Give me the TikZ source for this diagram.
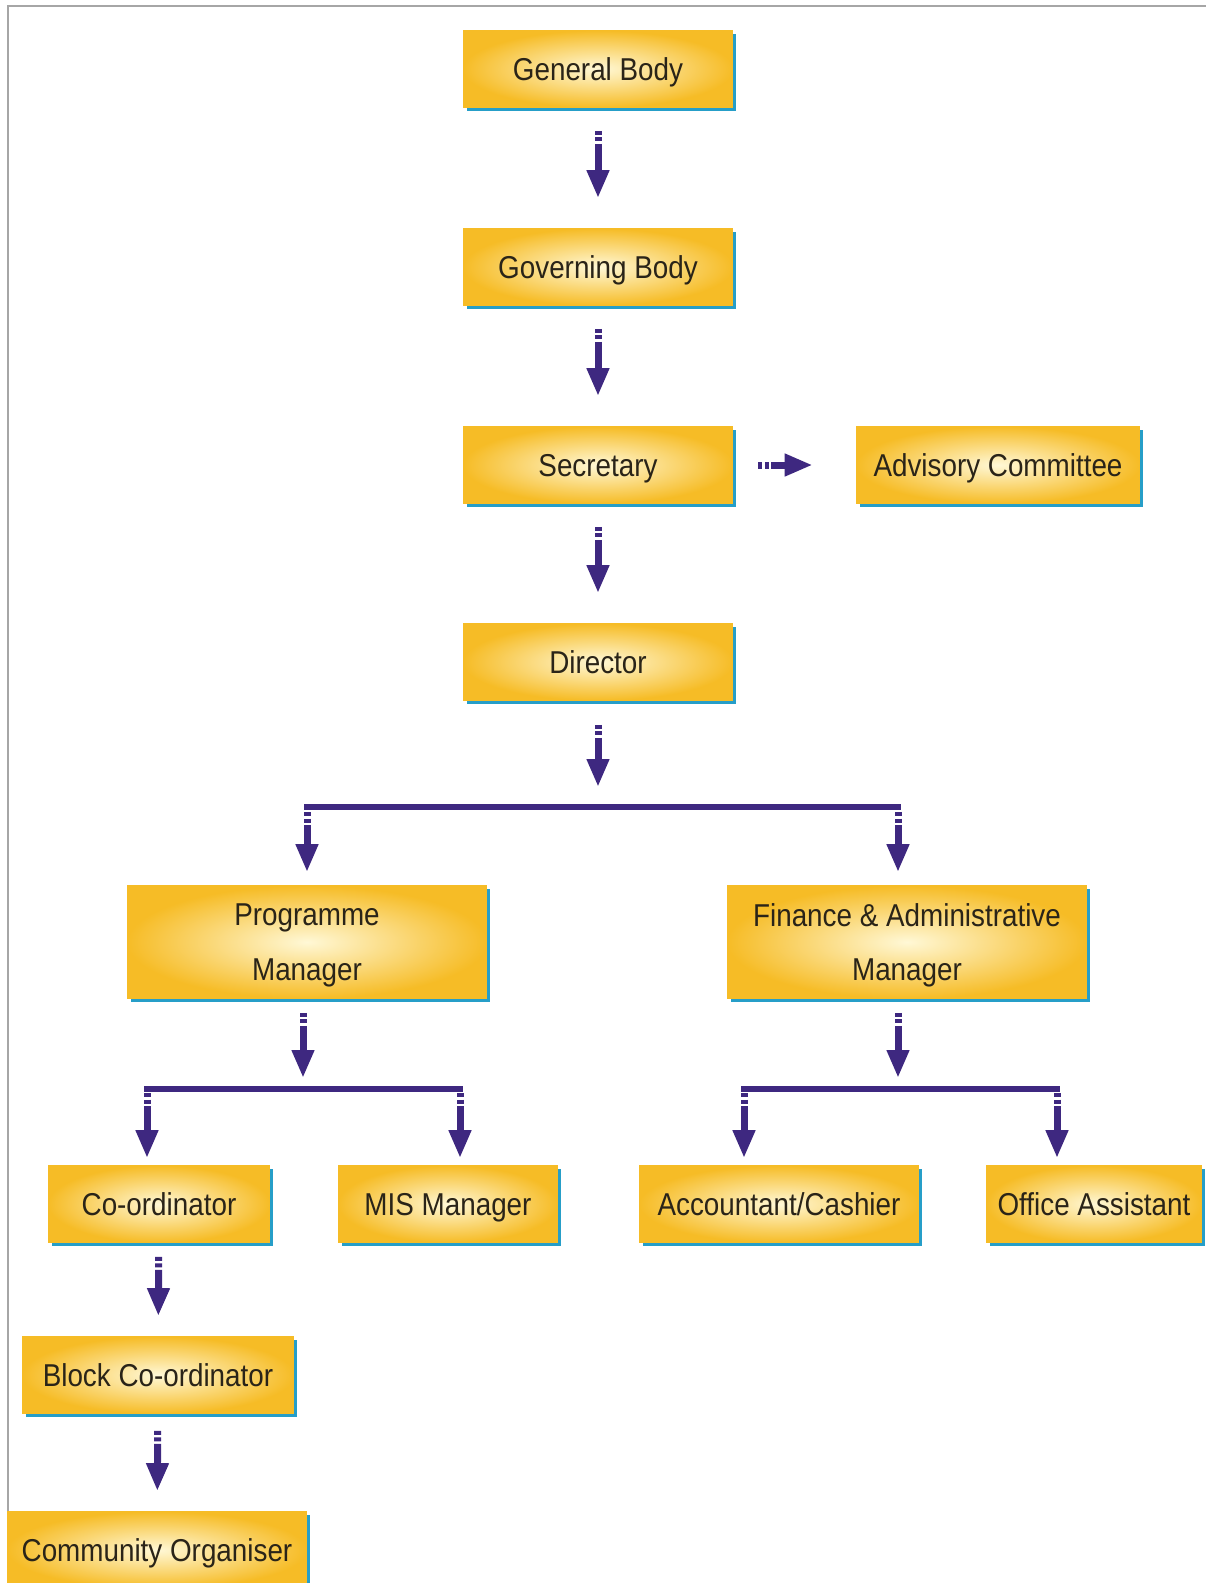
\documentclass[tikz,border=0pt]{standalone}
\usepackage{fontspec}
\setmainfont{Liberation Sans}[FakeStretch=0.88]
\usetikzlibrary{arrows.meta,shadows}

\definecolor{boxgold}{RGB}{246,188,38}
\definecolor{boxpale}{RGB}{255,248,214}
\definecolor{boxedge}{RGB}{38,158,200}
\definecolor{arrowpurple}{RGB}{62,40,128}
\definecolor{labeltext}{RGB}{42,36,24}

\tikzset{
  orgbox/.style={rectangle, inner color=boxpale, outer color=boxgold,
    minimum height=1.54cm, text=labeltext, align=center,
    text height=13.5pt, text depth=0pt,
    font=\fontsize{18}{31}\selectfont,
    general shadow={fill=boxedge, shadow xshift=0.07cm, shadow yshift=-0.07cm}},
  twoline/.style={text height={}, text depth=-11pt, minimum height=2.26cm},
  flow/.style={draw=arrowpurple, line width=0.14cm,
    dash pattern=on 0.08cm off 0.05cm on 0.08cm off 0.05cm on 10cm off 1cm,
    -{Triangle[width=0.42cm,length=0.56cm]}},
  joinbar/.style={draw=arrowpurple, line width=0.12cm, line cap=rect}
}

\begin{document}
\begin{tikzpicture}[x=0.02cm, y=-0.02cm]
        \useasboundingbox (0,0) rectangle (1206,1583);
        \clip (0,0) rectangle (1206,1583);
        % frame
        \draw[gray!70, line width=0.04cm] (8,1583) -- (8,6) -- (1206,6);

        % top column
        \node[orgbox, minimum width=5.4cm] (general) at (598,69) {General Body};
        \node[orgbox, minimum width=5.4cm] (governing) at (598,267) {Governing Body};
        \node[orgbox, minimum width=5.4cm] (secretary) at (598,465) {Secretary};
        \node[orgbox, minimum width=5.68cm] (advisory) at (998,465) {Advisory Committee};
        \node[orgbox, minimum width=5.4cm] (director) at (598,662) {Director};

        % managers
        \node[orgbox, twoline, minimum width=7.2cm] (programme) at (307,942) {Programme\\Manager};
        \node[orgbox, twoline, minimum width=7.2cm] (finance) at (907,942) {Finance \& Administrative\\Manager};

        % staff
        \node[orgbox, minimum width=4.44cm] (coordinator) at (159,1204) {Co-ordinator};
        \node[orgbox, minimum width=4.4cm] (mis) at (448,1204) {MIS Manager};
        \node[orgbox, minimum width=5.6cm] (accountant) at (779,1204) {Accountant/Cashier};
        \node[orgbox, minimum width=4.32cm] (office) at (1094,1204) {Office Assistant};
        \node[orgbox, minimum width=5.44cm] (block) at (158,1375) {Block Co-ordinator};
        \node[orgbox, minimum width=6.0cm] (community) at (157,1550) {Community Organiser};

        % joins of the bars
        \coordinate (dirjoin) at (598,807);
        \coordinate (barprog) at (307,807);
        \coordinate (barfin) at (898,807);
        \coordinate (progjoin) at (303,1089);
        \coordinate (barcoord) at (147,1089);
        \coordinate (barmis) at (460,1089);
        \coordinate (finjoin) at (898,1089);
        \coordinate (baracct) at (744,1089);
        \coordinate (baroffice) at (1057,1089);

        % straight arrows
        \draw[flow, shorten <=0.46cm, shorten >=0.6cm] (general) -- (governing);
        \draw[flow, shorten <=0.46cm, shorten >=0.6cm] (governing) -- (secretary);
        \draw[flow, shorten <=0.46cm, shorten >=0.6cm] (secretary) -- (director);
        \draw[flow, shorten <=0.5cm, shorten >=0.86cm] (secretary) -- (advisory);
        \draw[flow, shorten <=0.28cm, shorten >=0.4cm] (coordinator) -- (block);
        \draw[flow, shorten <=0.34cm, shorten >=0.4cm] (block) -- (community);

        % director to the managers
        \draw[flow, shorten <=0.48cm, shorten >=0.4cm] (director) -- (dirjoin);
        \draw[joinbar] (barprog) -- (barfin);
        \draw[flow, shorten <=0.1cm, shorten >=0.26cm] (barprog) -- (barprog |- programme.north);
        \draw[flow, shorten <=0.1cm, shorten >=0.26cm] (barfin) -- (barfin |- finance.north);

        % managers to their staff
        \draw[flow, shorten <=0.28cm, shorten >=0.22cm] (programme.south -| progjoin) -- (progjoin);
        \draw[joinbar] (barcoord) -- (barmis);
        \draw[flow, shorten <=0.08cm, shorten >=0.14cm] (barcoord) -- (barcoord |- coordinator.north);
        \draw[flow, shorten <=0.08cm, shorten >=0.14cm] (barmis) -- (barmis |- mis.north);

        \draw[flow, shorten <=0.28cm, shorten >=0.22cm] (finance.south -| finjoin) -- (finjoin);
        \draw[joinbar] (baracct) -- (baroffice);
        \draw[flow, shorten <=0.08cm, shorten >=0.14cm] (baracct) -- (baracct |- accountant.north);
        \draw[flow, shorten <=0.08cm, shorten >=0.14cm] (baroffice) -- (baroffice |- office.north);
\end{tikzpicture}
\end{document}
